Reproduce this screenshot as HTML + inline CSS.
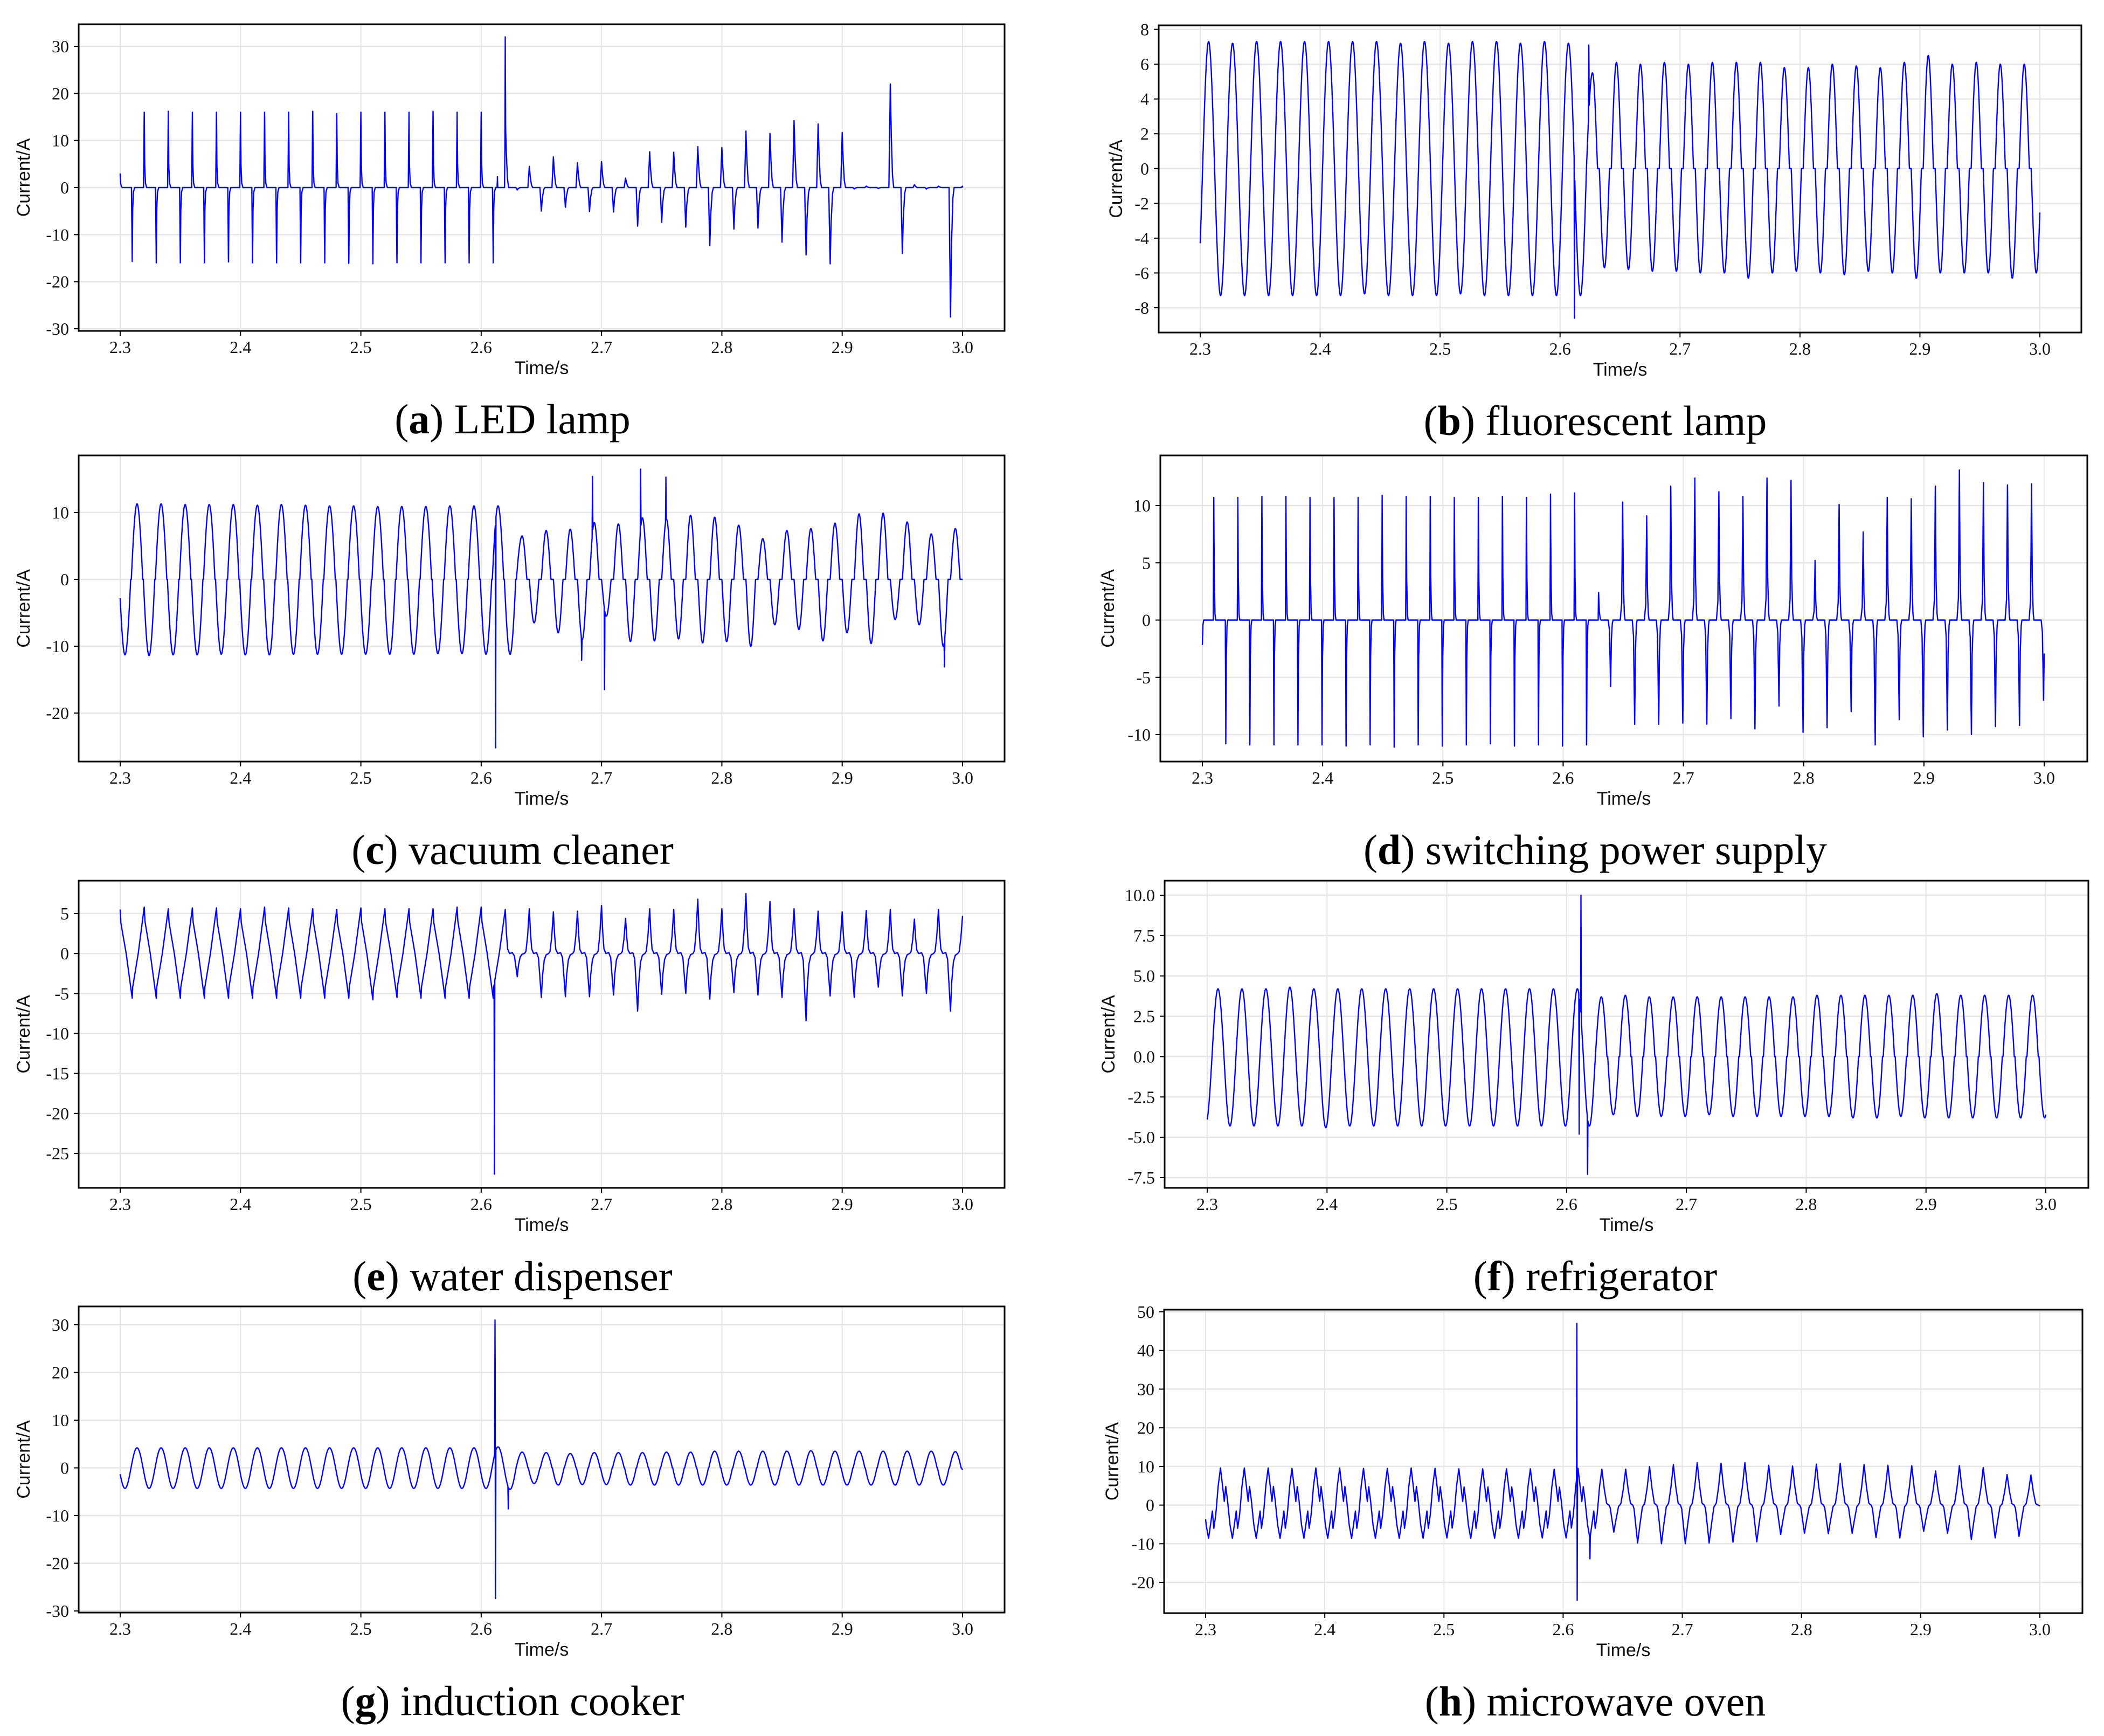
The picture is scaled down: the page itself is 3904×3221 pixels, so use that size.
<!DOCTYPE html>
<html><head><meta charset="utf-8"><title>Appliance current waveforms</title>
<style>html,body{margin:0;padding:0;background:#fff;}svg{display:block;}</style></head>
<body>
<svg id="fig" xmlns="http://www.w3.org/2000/svg" width="3904" height="3221" viewBox="0 0 3904 3221">
<rect x="0" y="0" width="3904" height="3221" fill="#fff"/>
</svg>
<script>
// ---------- data (per-cycle peak values) ----------
const xTicks = [2.3, 2.4, 2.5, 2.6, 2.7, 2.8, 2.9, 3.0];

const ledPos = [3,16,16.2,16,16,16,16,16,16.2,15.7,16,16,16,16.2,16,16,16,4.5,6.5,5.3,5.5,2.0,7.6,7.5,8.7,8.5,12,11.5,14.2,13.5,11.7,0.3,22,0.6,0.3];
const ledNeg = [-15.7,-16,-16,-16,-15.8,-16,-16,-16,-16,-16.1,-16.2,-16,-16,-16,-16,-16,-0.5,-5,-4.2,-5.1,-5.2,-8.2,-7.4,-8.4,-12.3,-8.8,-8.6,-11.6,-14.3,-16.2,-0.3,-0.2,-14,-0.3,-27.5];
const ledEventT = [2.620, 2.6135];
const ledEventV = [32, 2.3];

const fluPos = [7.3,7.3,7.2,7.3,7.3,7.3,7.3,7.3,7.3,7.2,7.3,7.2,7.3,7.3,7.2,7.3,7.2,5.5,6.1,6.0,6.1,6.0,6.1,6.1,6.1,5.8,5.8,6.0,5.9,5.8,6.1,6.5,6.0,6.1,6.0,6.0];
const fluNeg = [-7.3,-7.3,-7.3,-7.3,-7.3,-7.3,-7.3,-7.2,-7.3,-7.3,-7.3,-7.2,-7.3,-7.3,-7.3,-7.3,-7.3,-5.7,-5.8,-5.9,-5.9,-6.0,-6.0,-6.3,-6.0,-5.9,-6.0,-6.1,-5.9,-6.0,-6.3,-6.0,-6.0,-6.0,-6.3,-6.0];
const fluEventT = [2.612, 2.624];
const fluEventV = [-8.6, 7.1];

const vacPos = [11.0,11.3,11.3,11.2,11.2,11.2,11.1,11.2,11.1,11.0,11.0,10.9,10.9,10.9,11.0,11.0,11.0,6.5,7.3,7.5,8.5,8.3,9.2,9.0,9.6,9.3,8.1,6.1,7.3,7.6,8.4,9.8,9.9,8.6,6.8,7.6];
const vacNeg = [-11.3,-11.4,-11.3,-11.3,-11.2,-11.3,-11.3,-11.2,-11.2,-11.2,-11.2,-11.2,-11.2,-11.1,-11.1,-11.2,-11.2,-6.5,-8.0,-9.0,-5.5,-9.3,-9.2,-8.9,-9.5,-9.3,-10.0,-6.8,-7.5,-9.2,-8.0,-9.6,-6.0,-6.8,-10.0,-1];
const vacEventT = [2.612, 2.6925, 2.6835, 2.7025, 2.7325, 2.7535, 2.985];
const vacEventV = [-25.2, 15.4, -12.1, -16.5, 16.5, 15.3, -13.1];

const spsPos = [0,10.7,10.7,10.8,10.8,10.7,10.7,10.7,10.9,10.8,10.8,10.7,10.7,10.8,10.7,11.0,11.1,2.4,10.3,9.1,11.7,12.4,11.2,10.8,12.4,12.2,5.2,10.1,7.7,10.7,10.6,11.7,13.1,12.0,11.8,11.9];
const spsNeg = [-8.4,-10.8,-10.9,-10.9,-10.9,-10.9,-11.0,-10.9,-11.1,-10.9,-11.0,-10.9,-10.8,-11.0,-10.9,-11.0,-10.9,-5.8,-9.1,-9.1,-9.0,-9.1,-8.6,-9.5,-7.5,-9.8,-9.4,-8.0,-10.9,-8.7,-10.2,-9.6,-10.0,-9.3,-9.2,-7];
const spsEventT = [];
const spsEventV = [];

const watPos = [5.5,5.8,5.6,5.7,5.7,5.6,5.8,5.7,5.6,5.5,5.7,5.6,5.6,5.6,5.8,5.8,5.5,5.6,5.2,5.3,6.0,4.4,5.6,5.5,6.8,5.6,7.5,6.5,5.6,5.3,5.2,5.4,5.5,4.3,5.5,4.7];
const watNeg = [-5.6,-5.6,-5.6,-5.6,-5.6,-5.6,-5.6,-5.6,-5.6,-5.6,-5.8,-5.5,-5.6,-5.6,-5.6,-5.6,-2.9,-5.5,-5.4,-5.4,-5.2,-7.2,-5.1,-5.0,-5.7,-4.9,-5.2,-5.5,-8.4,-5.3,-5.5,-4.2,-5.3,-5.0,-7.2,0];
const watEventT = [2.611];
const watEventV = [-27.6];

const frgPos = [4.2,4.2,4.2,4.2,4.3,4.2,4.2,4.2,4.2,4.2,4.2,4.2,4.2,4.2,4.2,4.2,4.2,3.7,3.8,3.7,3.7,3.7,3.7,3.7,3.7,3.7,3.8,3.8,3.8,3.8,3.8,3.9,3.8,3.8,3.8,3.8];
const frgNeg = [-4.1,-4.3,-4.3,-4.3,-4.3,-4.4,-4.3,-4.3,-4.3,-4.3,-4.3,-4.3,-4.3,-4.3,-4.3,-4.3,-4.3,-3.6,-3.7,-3.7,-3.7,-3.6,-3.7,-3.7,-3.7,-3.7,-3.7,-3.8,-3.8,-3.7,-3.8,-3.8,-3.8,-3.8,-3.8,-3.8];
const frgEventT = [2.6105, 2.612, 2.6175];
const frgEventV = [-4.8, 10.0, -7.3];

const indPos = [4.2,4.2,4.2,4.2,4.2,4.2,4.2,4.2,4.2,4.2,4.2,4.2,4.2,4.2,4.2,4.2,4.4,3.3,3.2,3.0,3.2,3.2,3.2,3.3,3.3,3.5,3.5,3.5,3.5,3.6,3.5,3.5,3.5,3.5,3.5,3.4];
const indNeg = [-4.3,-4.3,-4.3,-4.3,-4.3,-4.3,-4.3,-4.3,-4.3,-4.3,-4.3,-4.3,-4.3,-4.3,-4.3,-4.3,-4.5,-3.3,-3.6,-3.5,-3.5,-3.6,-3.6,-3.6,-3.6,-3.6,-3.6,-3.6,-3.6,-3.6,-3.6,-3.6,-3.6,-3.6,-3.6,-1.5];
const indEventT = [2.6115, 2.6119, 2.6225];
const indEventV = [31, -27.4, -8.6];

const micPos = [9.5,9.6,9.6,9.6,9.5,9.6,9.6,9.5,9.5,9.6,9.5,9.4,9.4,9.4,9.4,9.3,9.5,9.3,9.3,10.0,10.5,11.0,10.8,11.0,10.3,10.1,10.6,10.8,10.5,10.3,10.2,8.8,10.2,9.7,7.9,7.8];
const micNeg = [-8.6,-8.6,-8.6,-8.6,-8.6,-8.6,-8.6,-8.6,-8.6,-8.6,-8.5,-8.6,-8.6,-8.6,-8.5,-8.5,-8.6,-7.0,-9.8,-10.0,-10.0,-9.8,-9.6,-9.5,-7.6,-7.3,-7.4,-7.3,-8.4,-8.5,-6.8,-7.3,-8.9,-8.5,-8.1,-1];
const micEventT = [2.6115, 2.6118, 2.6225];
const micEventV = [47, -24.6, -13.9];

// ---------- cycle shape templates ----------
const PERIOD = 0.02;
function pw(pts){return function(p){for(let i=1;i<pts.length;i++){if(p<=pts[i][0]){const a=pts[i-1],b=pts[i];return a[1]+(b[1]-a[1])*(p-a[0])/(b[0]-a[0]);}}return pts[pts.length-1][1];};}
function sine(p){return Math.cos(2*Math.PI*p);}
function dz(d,e){return function(p){const c=Math.cos(2*Math.PI*p);const m=Math.max(0,(Math.abs(c)-d)/(1-d));return Math.sign(c)*Math.pow(m,e);};}

const ledPre = pw([[0,1],[0.02,0.3],[0.05,0.06],[0.1,0],[0.47,0],[0.5,-1],[0.52,-0.3],[0.55,-0.06],[0.6,0],[0.97,0],[1,1]]);
const ledPost = pw([[0,1],[0.04,0.5],[0.09,0.12],[0.14,0],[0.44,0],[0.5,-1],[0.54,-0.45],[0.6,-0.08],[0.65,0],[0.94,0],[1,1]]);
const spsPre = pw([[0,1],[0.02,0.35],[0.05,0.05],[0.08,0],[0.48,0],[0.5,-1],[0.52,-0.3],[0.55,-0.05],[0.58,0],[0.98,0],[1,1]]);
const spsPost = pw([[0,1],[0.03,0.3],[0.07,0.05],[0.1,0],[0.4,0],[0.45,-0.15],[0.5,-1],[0.53,-0.3],[0.57,-0.05],[0.6,0],[0.9,0],[0.96,0.15],[1,1]]);
const watPre = pw([[0,1],[0.03,0.7],[0.06,0.6],[0.25,0],[0.5,-1],[0.52,-0.75],[0.75,0],[1,1]]);
const watPost = pw([[0,1],[0.05,0.45],[0.1,0.1],[0.18,0],[0.3,0.02],[0.38,-0.1],[0.5,-1],[0.55,-0.5],[0.62,-0.15],[0.7,-0.03],[0.8,0],[0.86,0.05],[0.93,0.4],[1,1]]);
const micPre = pw([[0,1],[0.08,0.55],[0.16,0.1],[0.22,0.5],[0.3,0.1],[0.4,-0.6],[0.5,-1],[0.58,-0.6],[0.66,-0.18],[0.72,-0.7],[0.8,-0.3],[0.9,0.5],[1,1]]);
const micPost = pw([[0,1],[0.1,0.45],[0.2,0.05],[0.25,0.02],[0.3,0],[0.35,-0.1],[0.5,-1],[0.6,-0.5],[0.7,-0.05],[0.75,0],[0.8,0.05],[0.9,0.45],[1,1]]);

// ---------- panel definitions (layout) ----------
const panels = [
 {id:'a', label:'LED lamp', box:[146,45,1864,614], xp:[223,1786], yv:[30,-30], yp:[86,610], ticks:[-30,-20,-10,0,10,20,30], dec:0, ylx:44, capx:951, t0:2.30, sw:16, pre:ledPre, post:ledPost, pos:ledPos, neg:ledNeg, et:ledEventT, ev:ledEventV},
 {id:'b', label:'fluorescent lamp', box:[2150,47,3862,617], xp:[2227,3785], yv:[8,-8], yp:[54.5,571], ticks:[-8,-6,-4,-2,0,2,4,6,8], dec:0, ylx:2071, capx:2960, t0:2.287, sw:17, pre:sine, post:dz(0.22,1.15), pos:fluPos, neg:fluNeg, et:fluEventT, ev:fluEventV},
 {id:'c', label:'vacuum cleaner', box:[146,845,1864,1413], xp:[223,1786], yv:[10,-20], yp:[951,1323], ticks:[-20,-10,0,10], dec:0, ylx:44, capx:951, t0:2.294, sw:17, pre:dz(0.08,1), post:dz(0.3,1.2), pos:vacPos, neg:vacNeg, et:vacEventT, ev:vacEventV},
 {id:'d', label:'switching power supply', box:[2153,845,3873,1413], xp:[2231,3793], yv:[10,-10], yp:[938,1363], ticks:[-10,-5,0,5,10], dec:0, ylx:2056, capx:2960, t0:2.2895, sw:17, pre:spsPre, post:spsPost, pos:spsPos, neg:spsNeg, et:spsEventT, ev:spsEventV},
 {id:'e', label:'water dispenser', box:[146,1634,1864,2204], xp:[223,1786], yv:[5,-25], yp:[1695,2140], ticks:[-25,-20,-15,-10,-5,0,5], dec:0, ylx:44, capx:951, t0:2.30, sw:16, pre:watPre, post:watPost, pos:watPos, neg:watNeg, et:watEventT, ev:watEventV},
 {id:'f', label:'refrigerator', box:[2161,1634,3875,2204], xp:[2240,3796], yv:[10,-7.5], yp:[1661,2185], ticks:[-7.5,-5,-2.5,0,2.5,5,7.5,10], dec:1, ylx:2057, capx:2960, t0:2.289, sw:17, pre:sine, post:dz(0.1,1), pos:frgPos, neg:frgNeg, et:frgEventT, ev:frgEventV},
 {id:'g', label:'induction cooker', box:[146,2424,1864,2992], xp:[223,1786], yv:[30,-30], yp:[2458,2989], ticks:[-30,-20,-10,0,10,20,30], dec:0, ylx:44, capx:951, t0:2.294, sw:17, pre:sine, post:dz(0.05,1), pos:indPos, neg:indNeg, et:indEventT, ev:indEventV},
 {id:'h', label:'microwave oven', box:[2160,2430,3864,2993], xp:[2237,3785], yv:[50,-20], yp:[2434,2936], ticks:[-20,-10,0,10,20,30,40,50], dec:0, ylx:2064, capx:2960, t0:2.2925, sw:17, pre:micPre, post:micPost, pos:micPos, neg:micNeg, et:micEventT, ev:micEventV}
];

const NS = 'http://www.w3.org/2000/svg';
const svg = document.getElementById('fig');
function mk(tag, attrs, parent){const el=document.createElementNS(NS,tag);for(const k in attrs)el.setAttribute(k,attrs[k]);(parent||svg).appendChild(el);return el;}

function evalWave(P, t){
  const x=(t-P.t0)/PERIOD; const k=Math.floor(x); const p=x-k;
  const tpl = k < P.sw ? P.pre : P.post;
  const s = tpl(p);
  let A;
  if (s>=0){ A = p<0.5 ? P.pos[k] : (P.pos[k+1]!==undefined ? P.pos[k+1] : P.pos[k]); }
  else { A = Math.abs(P.neg[k]!==undefined ? P.neg[k] : 0); }
  if (A===undefined) A=0;
  return s*A;
}

panels.forEach(function(P){
  const [x0,y0,x1,y1]=P.box;
  const sx = t => P.xp[0] + (t-2.3)/0.7*(P.xp[1]-P.xp[0]);
  const sy = v => P.yp[0] + (v-P.yv[0])/(P.yv[1]-P.yv[0])*(P.yp[1]-P.yp[0]);
  const g = mk('g',{});
  
  

  // grid
  xTicks.forEach(function(t){
    const l=mk('line',{x1:sx(t),x2:sx(t),y1:y0,y2:y1,stroke:'#e6e6e6','stroke-width':2},g);
    
    
  });
  P.ticks.forEach(function(v){
    const l=mk('line',{x1:x0,x2:x1,y1:sy(v),y2:sy(v),stroke:'#e6e6e6','stroke-width':2.5},g);
    
    
  });

  // waveform
  const cid='clip-'+P.id;
  const cp=mk('clipPath',{id:cid},g);
  mk('rect',{x:x0,y:y0,width:x1-x0,height:y1-y0},cp);
  const W=0.0003;
  const evBase = P.et.map(t=>evalWave(P,t));
  let d='';
  const N=14000;
  for(let i=0;i<=N;i++){
    const t=2.3+0.7*i/N;
    let v=evalWave(P,t);
    for(let j=0;j<P.et.length;j++){
      const f=1-Math.abs(t-P.et[j])/W;
      if(f>0) v += (P.ev[j]-evBase[j])*f;
    }
    d += (i?'L':'M') + sx(t).toFixed(1) + ' ' + sy(v).toFixed(1);
  }
  const path=mk('path',{d:d,fill:'none',stroke:'#0000ff','stroke-width':2.4,'stroke-linejoin':'round','clip-path':'url(#'+cid+')'},g);
  
  

  // frame
  const fr=mk('rect',{x:x0,y:y0,width:x1-x0,height:y1-y0,fill:'none',stroke:'#000','stroke-width':3},g);
  
  

  // x ticks
  xTicks.forEach(function(t){
    mk('line',{x1:sx(t),x2:sx(t),y1:y1,y2:y1+9,stroke:'#000','stroke-width':2},g);
    const tx=mk('text',{x:sx(t),y:y1+41,'text-anchor':'middle','font-family':'Liberation Serif, serif','font-size':32,fill:'#111'},g);
    tx.textContent=t.toFixed(1);
    
    
  });
  // y ticks
  P.ticks.forEach(function(v){
    mk('line',{x1:x0-9,x2:x0,y1:sy(v),y2:sy(v),stroke:'#000','stroke-width':2},g);
    const tx=mk('text',{x:x0-18,y:sy(v)+11,'text-anchor':'end','font-family':'Liberation Serif, serif','font-size':32,fill:'#111'},g);
    tx.textContent=(v<0?'-':'')+Math.abs(v).toFixed(P.dec);
    
    
  });
  // axis titles
  const xt=mk('text',{x:(x0+x1)/2,y:y1+80,'text-anchor':'middle','font-family':'Liberation Sans, sans-serif','font-size':34,fill:'#111'},g);
  xt.textContent='Time/s';
  
  
  const cy=(y0+y1)/2;
  const yt=mk('text',{x:P.ylx,y:cy,'text-anchor':'middle','dominant-baseline':'central','font-family':'Liberation Sans, sans-serif','font-size':34,fill:'#111',transform:'rotate(-90 '+P.ylx+' '+cy+')'},g);
  yt.textContent='Current/A';
  
  

  // caption
  const cap=mk('text',{x:P.capx,y:y1+190,'text-anchor':'middle','font-family':'Liberation Serif, serif','font-size':78,fill:'#000'},g);
  
  
  const s1=mk('tspan',{},cap); s1.textContent='(';
  const s2=mk('tspan',{'font-weight':'bold'},cap); s2.textContent=P.id;
  const s3=mk('tspan',{},cap); s3.textContent=') '+P.label;
});
</script>
</body></html>
